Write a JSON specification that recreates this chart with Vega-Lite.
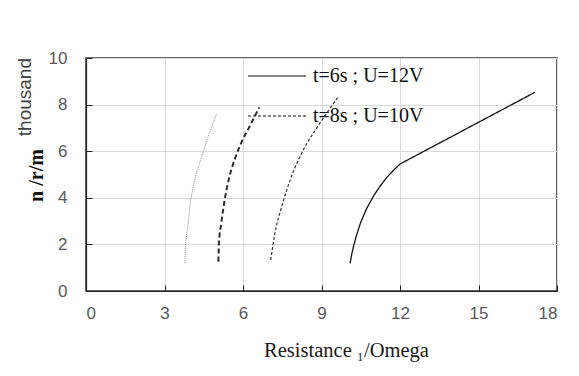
{
  "$schema": "https://vega.github.io/schema/vega-lite/v6.json",
  "autosize": "none",
  "width": 471,
  "height": 233,
  "padding": {"left": 86, "top": 58, "right": 22, "bottom": 85},
  "background": "white",
  "title": {
    "text": "thousand",
    "orient": "left",
    "anchor": "end",
    "frame": "group",
    "offset": -19,
    "dy": 5,
    "baseline": "alphabetic",
    "font": "Liberation Sans",
    "fontSize": 19,
    "fontWeight": "normal",
    "color": "#404040"
  },
  "config": {
    "view": {"stroke": "#333333", "strokeWidth": 1.5},
    "axis": {
      "labelFont": "Liberation Sans",
      "labelFontSize": 17,
      "labelColor": "#595959",
      "grid": true,
      "gridColor": "#d9d9d9",
      "gridWidth": 1,
      "domainColor": "#222222",
      "domainWidth": 1.2,
      "tickColor": "#222222",
      "tickSize": -6,
      "tickWidth": 1
    },
    "legend": {
      "orient": "none",
      "legendX": 161,
      "legendY": -12,
      "padding": 0,
      "labelFont": "Liberation Serif",
      "labelFontSize": 20,
      "labelColor": "#111111",
      "labelOffset": 6,
      "symbolType": "stroke",
      "symbolSize": 3364,
      "symbolStrokeWidth": 1.2,
      "symbolStrokeColor": "#111111",
      "rowPadding": -22
    }
  },
  "data": {
    "values": [
      {"series": "t=6s ; U=12V", "r": 10.09, "n": 1.19},
      {"series": "t=6s ; U=12V", "r": 10.15, "n": 1.55},
      {"series": "t=6s ; U=12V", "r": 10.22, "n": 1.9},
      {"series": "t=6s ; U=12V", "r": 10.34, "n": 2.4},
      {"series": "t=6s ; U=12V", "r": 10.5, "n": 2.95},
      {"series": "t=6s ; U=12V", "r": 10.73, "n": 3.55},
      {"series": "t=6s ; U=12V", "r": 11.0, "n": 4.1},
      {"series": "t=6s ; U=12V", "r": 11.24, "n": 4.5},
      {"series": "t=6s ; U=12V", "r": 11.5, "n": 4.88},
      {"series": "t=6s ; U=12V", "r": 11.75, "n": 5.18},
      {"series": "t=6s ; U=12V", "r": 12.0, "n": 5.45},
      {"series": "t=6s ; U=12V", "r": 17.16, "n": 8.53},
      {"series": "t=8s ; U=10V", "r": 7.06, "n": 1.33},
      {"series": "t=8s ; U=10V", "r": 7.22, "n": 2.48},
      {"series": "t=8s ; U=10V", "r": 7.48, "n": 3.62},
      {"series": "t=8s ; U=10V", "r": 7.8, "n": 4.76},
      {"series": "t=8s ; U=10V", "r": 8.24, "n": 5.91},
      {"series": "t=8s ; U=10V", "r": 8.94, "n": 7.2},
      {"series": "t=8s ; U=10V", "r": 9.64, "n": 8.34},
      {"series": "curve 3", "r": 5.06, "n": 1.26},
      {"series": "curve 3", "r": 5.08, "n": 2.05},
      {"series": "curve 3", "r": 5.17, "n": 2.91},
      {"series": "curve 3", "r": 5.3, "n": 3.91},
      {"series": "curve 3", "r": 5.48, "n": 4.9},
      {"series": "curve 3", "r": 5.7, "n": 5.7},
      {"series": "curve 3", "r": 5.95, "n": 6.4},
      {"series": "curve 3", "r": 6.27, "n": 7.1},
      {"series": "curve 3", "r": 6.62, "n": 7.88},
      {"series": "curve 4", "r": 3.78, "n": 1.19},
      {"series": "curve 4", "r": 3.81, "n": 2.05},
      {"series": "curve 4", "r": 3.89, "n": 2.76},
      {"series": "curve 4", "r": 3.97, "n": 3.62},
      {"series": "curve 4", "r": 4.1, "n": 4.48},
      {"series": "curve 4", "r": 4.36, "n": 5.55},
      {"series": "curve 4", "r": 4.67, "n": 6.62},
      {"series": "curve 4", "r": 4.99, "n": 7.6}
    ]
  },
  "encoding": {
    "x": {
      "field": "r",
      "type": "quantitative",
      "scale": {"domain": [0, 18], "nice": false, "zero": false},
      "axis": {
        "values": [0, 3, 6, 9, 12, 15, 18],
        "labelPadding": 20,
        "title": "Resistance  ₁/Omega",
        "titleFont": "Liberation Serif",
        "titleFontSize": 20.5,
        "titleFontWeight": "normal",
        "titleColor": "#1a1a1a",
        "titleX": 260,
        "titleY": 65,
        "titleAlign": "center",
        "titleBaseline": "alphabetic"
      }
    },
    "y": {
      "field": "n",
      "type": "quantitative",
      "scale": {"domain": [0, 10], "nice": false},
      "axis": {
        "values": [0, 2, 4, 6, 8, 10],
        "labelPadding": 25,
        "title": "n /r/m",
        "titleFont": "Liberation Serif",
        "titleFontSize": 20,
        "titleFontWeight": "bold",
        "titleColor": "#111111",
        "titleX": -44,
        "titleY": 117,
        "titleAlign": "center",
        "titleBaseline": "alphabetic"
      }
    }
  },
  "layer": [
    {
      "transform": [{"filter": "datum.series === 't=6s ; U=12V'"}],
      "mark": {"type": "line", "interpolate": "linear", "color": "#111111", "strokeWidth": 1.3},
      "encoding": {
        "strokeDash": {
          "field": "series",
          "type": "nominal",
          "scale": {"domain": ["t=6s ; U=12V", "t=8s ; U=10V"], "range": [[1, 0], [3, 2]]},
          "legend": {"title": null}
        }
      }
    },
    {
      "transform": [{"filter": "datum.series === 't=8s ; U=10V'"}],
      "mark": {"type": "line", "interpolate": "monotone", "color": "#333333", "strokeWidth": 1.2},
      "encoding": {
        "strokeDash": {"field": "series", "type": "nominal"}
      }
    },
    {
      "transform": [{"filter": "datum.series === 'curve 3'"}],
      "mark": {"type": "line", "interpolate": "monotone", "color": "#2a2a2a", "strokeWidth": 2, "strokeDash": [5, 3]},
      "encoding": {}
    },
    {
      "transform": [{"filter": "datum.series === 'curve 4'"}],
      "mark": {"type": "line", "interpolate": "monotone", "color": "#8c8c8c", "strokeWidth": 1, "strokeDash": [1, 1]},
      "encoding": {}
    }
  ]
}
